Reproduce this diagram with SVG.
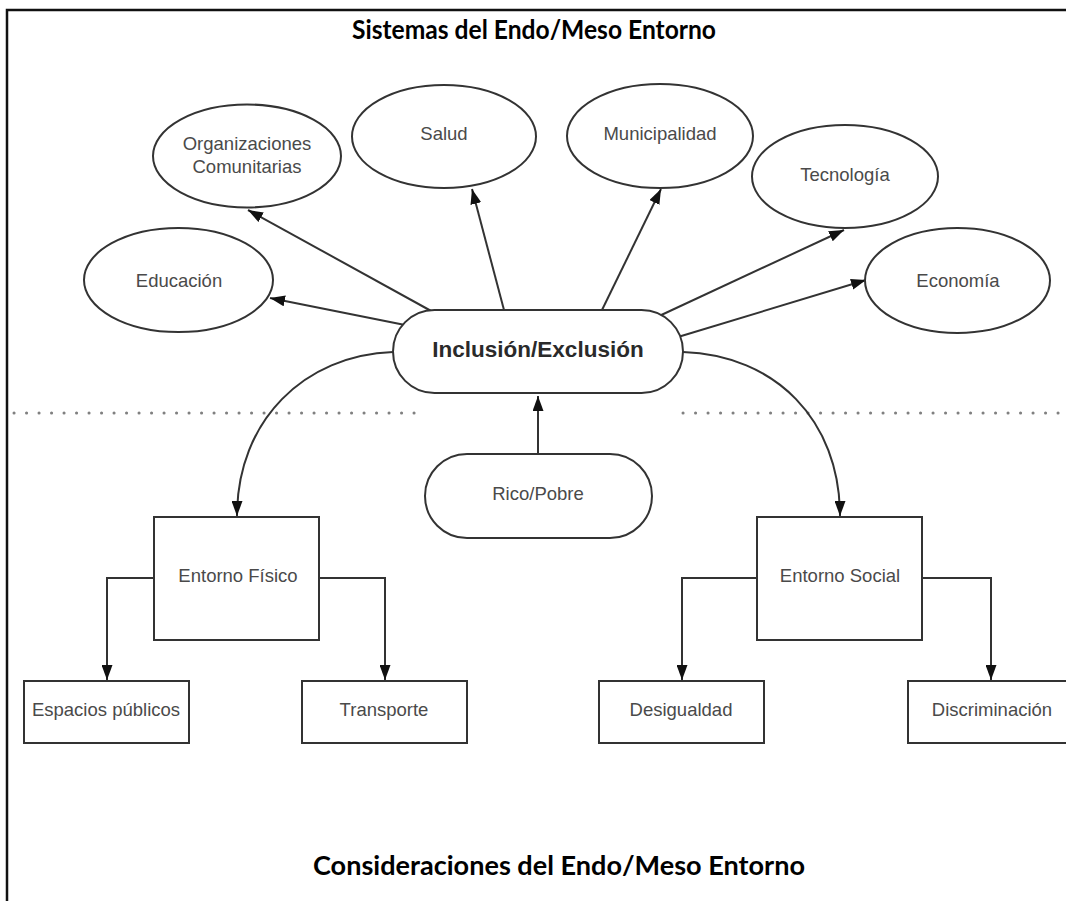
<svg xmlns="http://www.w3.org/2000/svg" width="1066" height="901" viewBox="0 0 1066 901">
  <style>
    .shape { fill: #ffffff; stroke: #333333; stroke-width: 2; }
    .lbl { font-family: "Liberation Sans", Arial, sans-serif; font-size: 18.5px; fill: #4a4a4a; text-anchor: middle; dominant-baseline: central; }
    .hub { font-family: "Liberation Sans", Arial, sans-serif; font-size: 22.5px; font-weight: bold; fill: #2a2a2a; text-anchor: middle; dominant-baseline: central; }
    .title { font-family: Lato, "Open Sans", sans-serif; font-size: 26px; font-weight: bold; fill: #000000; text-anchor: middle; }
    .edge { fill: none; stroke: #333333; stroke-width: 2; }
    .sep { stroke: #808080; stroke-width: 3; stroke-dasharray: 0.1 12.4; stroke-linecap: round; }
  </style>
  <defs>
    <marker id="arrow" viewBox="0 0 15 11" refX="15" refY="5.5" markerWidth="15" markerHeight="11" markerUnits="userSpaceOnUse" orient="auto">
      <path d="M0,0 L15,5.5 L0,11 Z" fill="#111111"/>
    </marker>
  </defs>

  <rect width="1066" height="901" fill="#ffffff"/>

  <!-- outer frame: top and left edges -->
  <path d="M7,920 V10 H1080" fill="none" stroke="#111111" stroke-width="2.5"/>

  <!-- headings -->
  <text class="title" x="534" y="39" textLength="364" lengthAdjust="spacingAndGlyphs">Sistemas del Endo/Meso Entorno</text>
  <text class="title" x="559" y="875" textLength="492" lengthAdjust="spacingAndGlyphs">Consideraciones del Endo/Meso Entorno</text>

  <!-- dotted separators -->
  <line class="sep" x1="14" y1="413" x2="416" y2="413"/>
  <line class="sep" x1="683" y1="413" x2="1066" y2="413"/>

  <!-- connectors -->
  <g id="connectors">
    <line class="edge" x1="405" y1="325" x2="270" y2="298" marker-end="url(#arrow)"/>
    <line class="edge" x1="433" y1="312" x2="248" y2="210" marker-end="url(#arrow)"/>
    <line class="edge" x1="504" y1="310" x2="472" y2="189" marker-end="url(#arrow)"/>
    <line class="edge" x1="602" y1="310" x2="661" y2="189" marker-end="url(#arrow)"/>
    <line class="edge" x1="657" y1="317" x2="844" y2="230" marker-end="url(#arrow)"/>
    <line class="edge" x1="678" y1="337" x2="866" y2="280" marker-end="url(#arrow)"/>
    <line class="edge" x1="538" y1="454" x2="538" y2="396" marker-end="url(#arrow)"/>
    <path class="edge" d="M393,352 C305,355 237,420 237,516" marker-end="url(#arrow)"/>
    <path class="edge" d="M683,352 C775,355 840,420 840,516" marker-end="url(#arrow)"/>
    <path class="edge" d="M154,578 H107 V680" marker-end="url(#arrow)"/>
    <path class="edge" d="M319,578 H385 V680" marker-end="url(#arrow)"/>
    <path class="edge" d="M757,578 H682 V680" marker-end="url(#arrow)"/>
    <path class="edge" d="M922,578 H991 V680" marker-end="url(#arrow)"/>
  </g>

  <!-- upper systems -->
  <g id="organizaciones">
    <ellipse class="shape" cx="247" cy="156" rx="94" ry="51.5"/>
    <text class="lbl" x="247" y="143">Organizaciones</text>
    <text class="lbl" x="247" y="166">Comunitarias</text>
  </g>
  <g id="salud">
    <ellipse class="shape" cx="444" cy="136.5" rx="92" ry="51.5"/>
    <text class="lbl" x="444" y="133">Salud</text>
  </g>
  <g id="municipalidad">
    <ellipse class="shape" cx="660" cy="136" rx="93" ry="52"/>
    <text class="lbl" x="660" y="133">Municipalidad</text>
  </g>
  <g id="tecnologia">
    <ellipse class="shape" cx="845" cy="176.5" rx="93" ry="51.5"/>
    <text class="lbl" x="845" y="174">Tecnología</text>
  </g>
  <g id="educacion">
    <ellipse class="shape" cx="178.5" cy="280" rx="94.5" ry="52"/>
    <text class="lbl" x="179" y="280">Educación</text>
  </g>
  <g id="economia">
    <ellipse class="shape" cx="957.5" cy="280.5" rx="92.5" ry="52.5"/>
    <text class="lbl" x="958" y="280">Economía</text>
  </g>

  <!-- hub -->
  <g id="inclusion">
    <rect class="shape" x="393" y="310" width="290" height="83" rx="41.5" ry="41.5"/>
    <text class="hub" x="538" y="349">Inclusión/Exclusión</text>
  </g>
  <g id="rico-pobre">
    <rect class="shape" x="425" y="454" width="227" height="84" rx="42" ry="42"/>
    <text class="lbl" x="538" y="493">Rico/Pobre</text>
  </g>

  <!-- lower considerations -->
  <g id="entorno-fisico">
    <rect class="shape" x="154" y="517" width="165" height="123"/>
    <text class="lbl" x="238" y="575">Entorno Físico</text>
  </g>
  <g id="entorno-social">
    <rect class="shape" x="757" y="517" width="165" height="123"/>
    <text class="lbl" x="840" y="575">Entorno Social</text>
  </g>
  <g id="espacios">
    <rect class="shape" x="24" y="681" width="165" height="62"/>
    <text class="lbl" x="106" y="709">Espacios públicos</text>
  </g>
  <g id="transporte">
    <rect class="shape" x="302" y="681" width="165" height="62"/>
    <text class="lbl" x="384" y="709">Transporte</text>
  </g>
  <g id="desigualdad">
    <rect class="shape" x="599" y="681" width="165" height="62"/>
    <text class="lbl" x="681" y="709">Desigualdad</text>
  </g>
  <g id="discriminacion">
    <rect class="shape" x="908" y="681" width="165" height="62"/>
    <text class="lbl" x="992" y="709">Discriminación</text>
  </g>
</svg>
